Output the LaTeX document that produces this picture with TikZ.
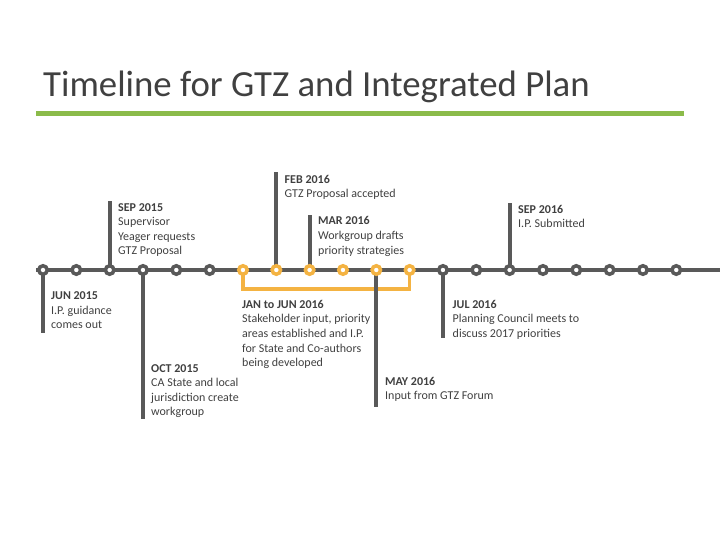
\documentclass[tikz,border=0pt]{standalone}
\usepackage{fontspec}
\setmainfont{Carlito}
\usetikzlibrary{positioning,backgrounds}
\definecolor{linegray}{HTML}{595959}
\definecolor{textgray}{HTML}{404040}
\definecolor{markorange}{HTML}{F4B342}
\definecolor{titlegreen}{HTML}{8BBB4A}
\tikzset{
  monthdot/.style={circle, draw=linegray, line width=3.5pt, fill=white, minimum size=8.5pt, inner sep=0pt},
  spandot/.style={monthdot, draw=markorange},
  tickline/.style={linegray, line width=4pt},
  spanline/.style={markorange, line width=3.5pt},
  eventtext/.style={anchor=north west, inner sep=0pt, align=left, text=textgray, font=\fontsize{12}{14.6}\selectfont},
  titletext/.style={anchor=base west, inner sep=0pt, text=textgray, font=\fontsize{36.8}{40}\selectfont}
}

\begin{document}
\begin{tikzpicture}[x=1pt, y=-1pt]
  \useasboundingbox (0,0) rectangle (720,540);
  % heading
  \node[titletext] (title) at (43,97) {Timeline for GTZ and Integrated Plan};
  \coordinate (ruleL) at (36,114);
  \coordinate (ruleR) at (684,114);
  \draw[titlegreen, line width=5pt] (ruleL) -- (ruleR);

  % month markers
  \foreach \i in {0,...,5,12,13,...,19}
    \node[monthdot] (d\i) at ({43+33.33*\i},270) {};
  \foreach \i in {6,...,11}
    \node[spandot] (d\i) at ({43+33.33*\i},270) {};

  % ends of the stems
  \coordinate (jun15end) at (d0 |- 0,333);
  \coordinate (sep15end) at (d2 |- 0,201);
  \coordinate (oct15end) at (d3 |- 0,419);
  \coordinate (feb16end) at (d7 |- 0,172);
  \coordinate (mar16end) at (d8 |- 0,215);
  \coordinate (may16end) at (d10 |- 0,407);
  \coordinate (jul16end) at (d12 |- 0,338);
  \coordinate (sep16end) at (d14 |- 0,203);
  \coordinate (spanfoot) at (320,289);
  \coordinate (lineL) at (36,270);
  \coordinate (lineR) at (722,270);

  \begin{scope}[on background layer]
    \draw[spanline] (d6.center) |- (spanfoot) -| (d11.center);
    \draw[tickline, line width=4.5pt] (lineL) -- (lineR);
    \draw[tickline] (d0.center) -- (jun15end);
    \draw[tickline] (d2.center) -- (sep15end);
    \draw[tickline] (d3.center) -- (oct15end);
    \draw[tickline] (d7.center) -- (feb16end);
    \draw[tickline] (d8.center) -- (mar16end);
    \draw[tickline] (d10.center) -- (may16end);
    \draw[tickline] (d12.center) -- (jul16end);
    \draw[tickline] (d14.center) -- (sep16end);
  \end{scope}

  % events
  \node[eventtext] (jun15) at (51,291.5) {\textbf{JUN 2015}\\I.P. guidance\\comes out};
  \node[eventtext] (sep15) at (118,203) {\textbf{SEP 2015}\\Supervisor\\Yeager requests\\GTZ Proposal};
  \node[eventtext] (oct15) at (151,364) {\textbf{OCT 2015}\\CA State and local\\jurisdiction create\\workgroup};
  \node[eventtext] (janjun16) at (242,300) {\textbf{JAN to JUN 2016}\\Stakeholder input, priority\\areas established and I.P.\\for State and Co-authors\\being developed};
  \node[eventtext] (feb16) at (284.5,175) {\textbf{FEB 2016}\\GTZ Proposal accepted};
  \node[eventtext] (mar16) at (318,216.5) {\textbf{MAR 2016}\\Workgroup drafts\\priority strategies};
  \node[eventtext] (may16) at (385,377) {\textbf{MAY 2016}\\Input from GTZ Forum};
  \node[eventtext] (jul16) at (452.5,300) {\textbf{JUL 2016}\\Planning Council meets to\\discuss 2017 priorities};
  \node[eventtext] (sep16) at (518,205) {\textbf{SEP 2016}\\I.P. Submitted};
\end{tikzpicture}
\end{document}
